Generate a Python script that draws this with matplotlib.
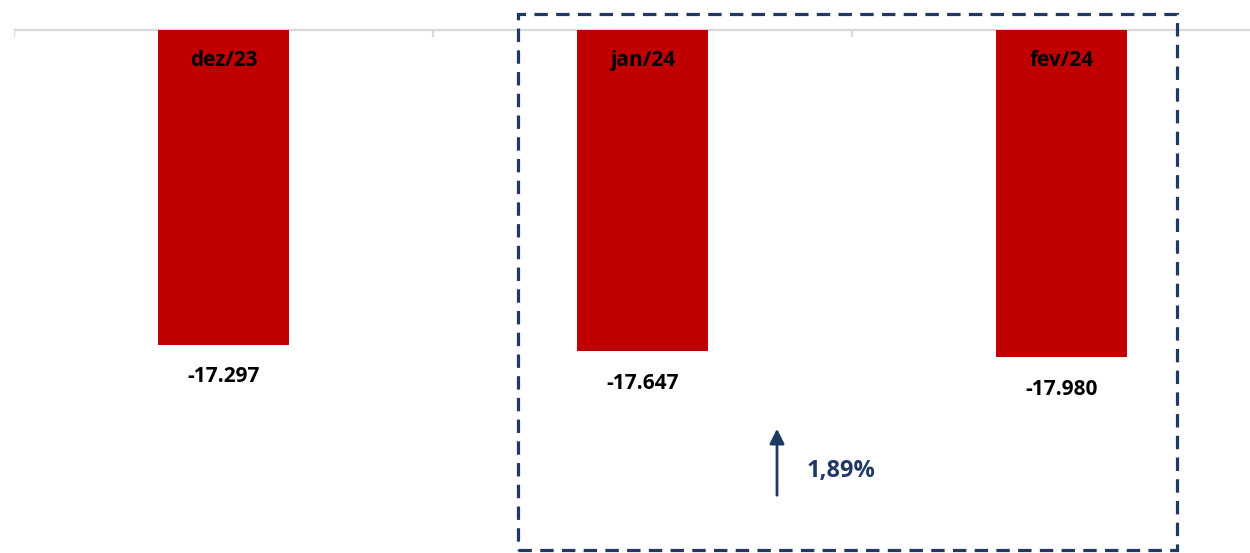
import matplotlib.pyplot as plt
from matplotlib.patches import Rectangle

# dados
meses = ["dez/23", "jan/24", "fev/24"]
valores = [-17297, -17647, -17980]
rotulos = ["-17.297", "-17.647", "-17.980"]

variacao = (valores[2] / valores[1] - 1) * 100
texto_var = f"{variacao:.2f}%".replace(".", ",")

VERMELHO = "#C00000"
AZUL = "#203864"
CINZA = "#D9D9D9"

plt.rcParams['font.family'] = ['Open Sans', 'DejaVu Sans']

fig = plt.figure(figsize=(12.5, 5.53), dpi=100)
# eixo estende além da borda direita como no original
ax = fig.add_axes([14 / 1250, 0, 1257 / 1250, 1])
ax.axis("off")

x = list(range(len(meses)))
bars = ax.bar(x, valores, width=0.313, color=VERMELHO, zorder=2)

ax.set_xlim(-0.5, len(meses) - 0.5)
ax.set_ylim(-28720, 1647)

# linha base e marcas entre categorias
ax.axhline(0, color=CINZA, lw=1.6, zorder=1)
ax.plot([-0.5 + i for i in range(len(meses) + 1)], [0] * (len(meses) + 1),
        linestyle="none", marker=3, markersize=5, color=CINZA, mew=1.6, zorder=1)

for xi, v, mes, rot in zip(x, valores, meses, rotulos):
    ax.annotate(mes, (xi, 0), xytext=(0, -22), textcoords="offset points",
                ha="center", va="center", fontsize=15, fontweight="bold", color="black")
    ax.annotate(rot, (xi, v), xytext=(0, -23), textcoords="offset points",
                ha="center", va="center", fontsize=15, fontweight="bold", color="black")

# caixa tracejada destacando jan/24 e fev/24
caixa = Rectangle((518 / 1250, 3 / 553), (1177 - 518) / 1250, (539 - 3) / 553,
                  transform=fig.transFigure, fill=False, edgecolor=AZUL,
                  lw=2.3, linestyle=(0, (4.2, 2.6)), zorder=5)
fig.patches.append(caixa)

# seta de variação
ax.annotate("", xy=(777 / 1250, 1 - 426 / 553), xytext=(777 / 1250, 1 - 498 / 553),
            xycoords="figure fraction", textcoords="figure fraction",
            arrowprops=dict(arrowstyle="-|>", color=AZUL, lw=2, mutation_scale=22))
fig.text(807 / 1250, 1 - 471 / 553, texto_var, ha="left", va="center",
         fontsize=17, fontweight="bold", color=AZUL)

fig.savefig("out.png", dpi=100)
